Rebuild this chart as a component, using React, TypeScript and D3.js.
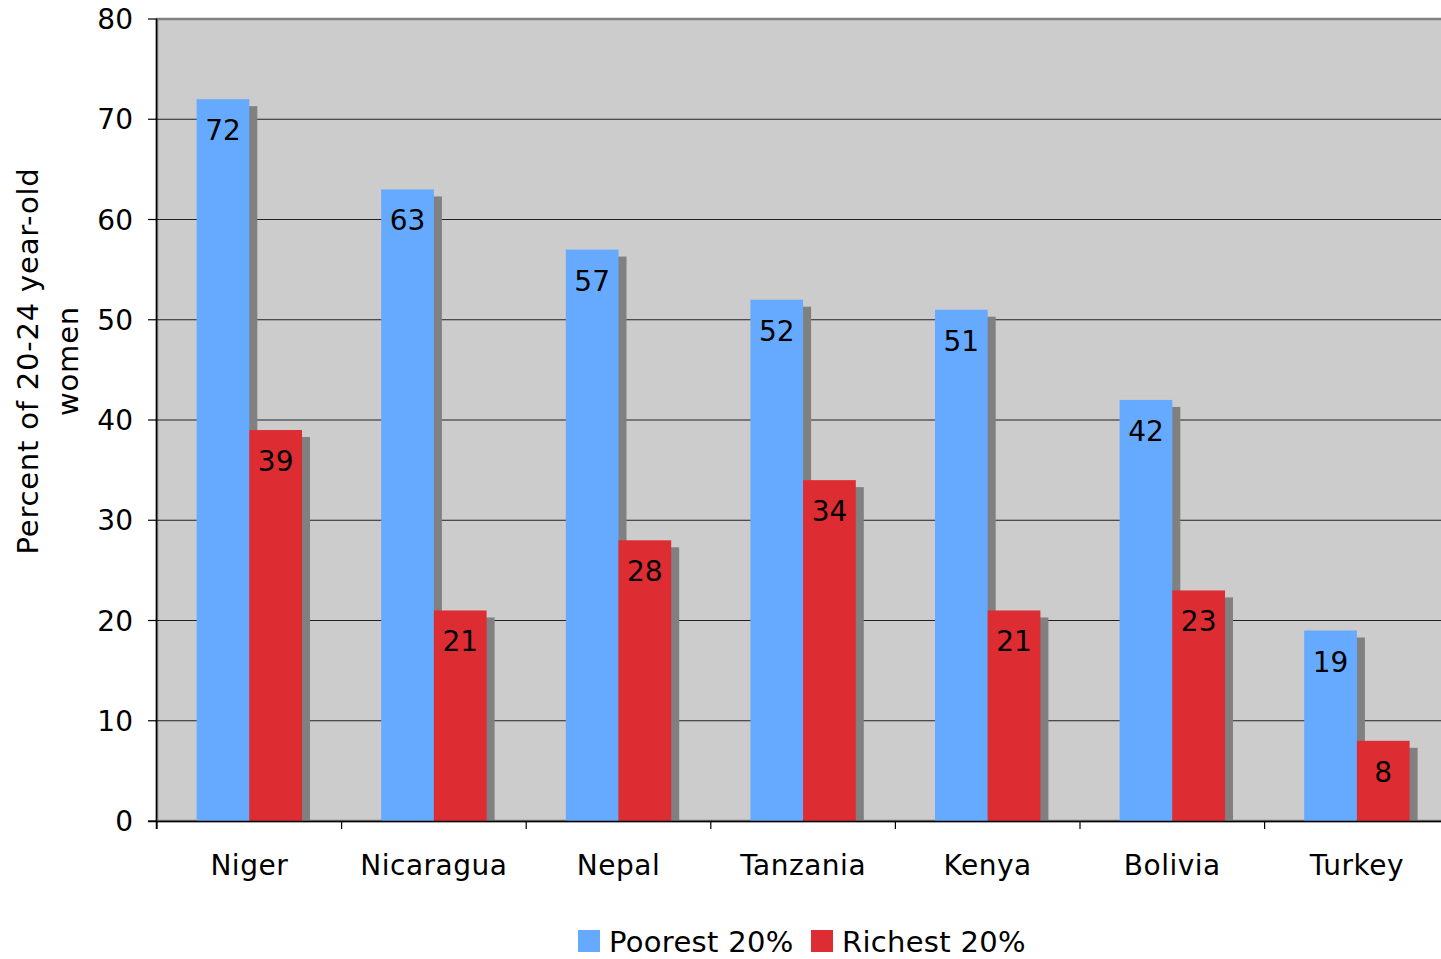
import React from "react";
import * as d3 from "d3";

const categories = ["Niger", "Nicaragua", "Nepal", "Tanzania", "Kenya", "Bolivia", "Turkey"];
const poorest = [72, 63, 57, 52, 51, 42, 19];
const richest = [39, 21, 28, 34, 21, 23, 8];
const yTicks = [0, 10, 20, 30, 40, 50, 60, 70, 80];
const seriesNames = ["Poorest 20%", "Richest 20%"];

const W = 1441;
const H = 959;
const left = 157;
const top = 19;
const bottom = 821;
const step = 184.6;
const right = left + step * categories.length;
const FONT = "'DejaVu Sans', Verdana, sans-serif";
const BLUE = "#66AAFF";
const RED = "#DD2D33";
const SHADOW = "#808080";
const BG = "#CCCCCC";

export default function App() {
  const x = d3.scaleBand<string>().domain(categories).range([left, right]).paddingInner(0).paddingOuter(0);
  const y = d3.scaleLinear().domain([0, 80]).range([bottom, top]);
  const bw = x.bandwidth();
  const groupW = bw * 0.571;
  const off = (bw - groupW) / 2;
  const barW = groupW / 2;
  const sdx = 8;
  const sdy = 7;

  const series = [poorest, richest];
  const colors = [BLUE, RED];

  return (
    <svg width={W} height={H} style={{ display: "block", position: "absolute", left: 0, top: 0 }} fontFamily={FONT}>
      <rect x={0} y={0} width={W} height={H} fill="#fff" />
      <rect x={left} y={top} width={right - left} height={bottom - top} fill={BG} stroke={SHADOW} strokeWidth={2.5} />
      {yTicks.filter((t) => t > 0 && t < 80).map((t) => (
        <line key={t} x1={left} x2={right} y1={y(t)} y2={y(t)} stroke="#222" strokeWidth={1.2} />
      ))}
      {series.map((vals, si) => (
        <g key={si}>
          {categories.map((c, i) => {
            const bx = (x(c) as number) + off + si * barW;
            const by = y(vals[i]);
            return (
              <g key={c}>
                <rect x={bx + sdx} y={by + sdy} width={barW} height={bottom - by - sdy} fill={SHADOW} />
                <rect x={bx} y={by} width={barW} height={bottom - by} fill={colors[si]} />
                <text x={bx + barW / 2} y={by + 41} textAnchor="middle" fontSize={28} fill="#000">
                  {vals[i]}
                </text>
              </g>
            );
          })}
        </g>
      ))}
      {/* axes */}
      <line x1={left - 0.5} x2={left - 0.5} y1={top} y2={bottom + 8} stroke="#000" strokeWidth={1.5} />
      <line x1={left - 9} x2={right} y1={bottom + 0.5} y2={bottom + 0.5} stroke="#000" strokeWidth={1.5} />
      {yTicks.map((t) => (
        <g key={t}>
          <line x1={left - 9} x2={left} y1={y(t)} y2={y(t)} stroke="#000" strokeWidth={1.2} />
          <text x={133} y={y(t) + 10} textAnchor="end" fontSize={28} fill="#000">
            {t}
          </text>
        </g>
      ))}
      {d3.range(categories.length + 1).map((i) => (
        <line key={i} x1={left + i * step} x2={left + i * step} y1={bottom} y2={bottom + 8} stroke="#000" strokeWidth={1.2} />
      ))}
      {categories.map((c) => (
        <text key={c} x={(x(c) as number) + bw / 2} y={875} textAnchor="middle" fontSize={28} letterSpacing={0.5} fill="#000">
          {c}
        </text>
      ))}
      <text transform="translate(38,361) rotate(-90)" textAnchor="middle" fontSize={29} letterSpacing={0.8} fill="#000">
        Percent of 20-24 year-old
      </text>
      <text transform="translate(78,361) rotate(-90)" textAnchor="middle" fontSize={29} letterSpacing={0.8} fill="#000">
        women
      </text>
      {/* legend */}
      <rect x={578} y={930} width={22} height={22} fill={BLUE} />
      <text x={609} y={952} fontSize={29} letterSpacing={0.3} fill="#000">{seriesNames[0]}</text>
      <rect x={811} y={930} width={22} height={22} fill={RED} />
      <text x={842} y={952} fontSize={29} letterSpacing={0.3} fill="#000">{seriesNames[1]}</text>
    </svg>
  );
}
